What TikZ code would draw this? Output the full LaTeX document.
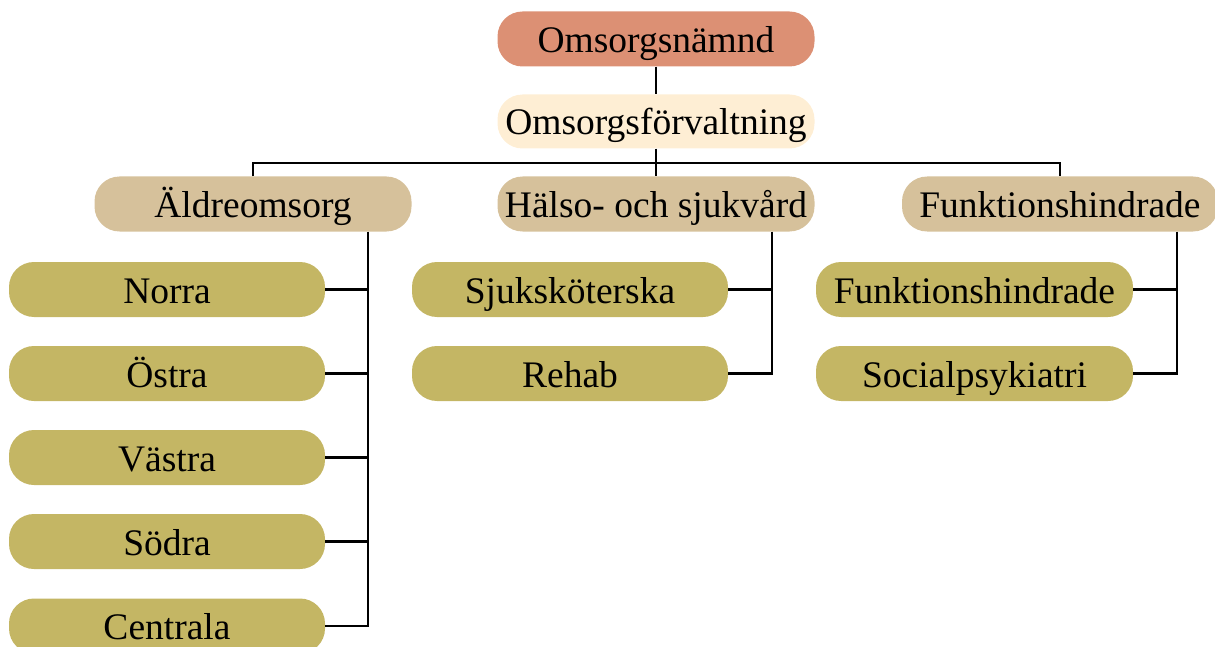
\documentclass[tikz,border=0pt]{standalone}
\usepackage{fontspec}
\setmainfont{Liberation Serif}
\definecolor{cTop}{RGB}{220,144,116}
\definecolor{cAdm}{RGB}{254,238,212}
\definecolor{cDiv}{RGB}{214,193,155}
\definecolor{cSub}{RGB}{196,182,100}
\tikzset{
  box/.style={rounded corners=25pt, minimum width=317pt, minimum height=55pt, inner sep=0pt, text height=27pt, text depth=0pt, text=black, font=\fontsize{37.5}{44}\selectfont},
  topbox/.style={box, fill=cTop},
  admbox/.style={box, fill=cAdm},
  divbox/.style={box, fill=cDiv},
  subbox/.style={box, fill=cSub},
  conn/.style={line width=2.6pt, black}
}
\begin{document}
\begin{tikzpicture}[x=1pt,y=-1pt]
\useasboundingbox (0,0) rectangle (1215,647);
\clip (0,0) rectangle (1215,647);
% nodes
\node[topbox] (nam) at (656,39) {Omsorgsnämnd};
\node[admbox, minimum height=54pt] (forv) at (656,121.5) {Omsorgsförvaltning};
\node[divbox] (ald) at (253,204) {Äldreomsorg};
\node[divbox] (hal) at (656,204) {Hälso- och sjukvård};
\node[divbox, minimum width=316pt] (fun) at (1060,204) {Funktionshindrade};
\node[subbox, minimum width=316pt] (norra) at (167,289.5) {Norra};
\node[subbox, minimum width=316pt] (ostra) at (167,373.5) {Östra};
\node[subbox, minimum width=316pt] (vastra) at (167,457.5) {Västra};
\node[subbox, minimum width=316pt] (sodra) at (167,541.5) {Södra};
\node[subbox, minimum width=316pt] (centr) at (167,626) {Centrala};
\node[subbox, minimum width=316pt] (sjuk) at (570,289.5) {Sjuksköterska};
\node[subbox, minimum width=316pt] (rehab) at (570,373.5) {Rehab};
\node[subbox, minimum width=317pt] (funk) at (974.5,289.5) {Funktionshindrade};
\node[subbox, minimum width=317pt] (soc) at (974.5,373.5) {Socialpsykiatri};
% connector anchors
\coordinate (bus) at (656,163);
\coordinate (lt) at (368,231.5);
\coordinate (mt) at (772,231.5);
\coordinate (rt) at (1177,231.5);
% connectors
\draw[conn] (nam.south) -- (forv.north);
\draw[conn] (forv.south) -- (hal.north);
\draw[conn] (ald.north) |- (bus) -| (fun.north);
\draw[conn] (lt) |- (centr.east);
\draw[conn] (norra.east) -- (norra.east -| lt);
\draw[conn] (ostra.east) -- (ostra.east -| lt);
\draw[conn] (vastra.east) -- (vastra.east -| lt);
\draw[conn] (sodra.east) -- (sodra.east -| lt);
\draw[conn] (mt) |- (rehab.east);
\draw[conn] (sjuk.east) -- (sjuk.east -| mt);
\draw[conn] (rt) |- (soc.east);
\draw[conn] (funk.east) -- (funk.east -| rt);
\end{tikzpicture}
\end{document}
